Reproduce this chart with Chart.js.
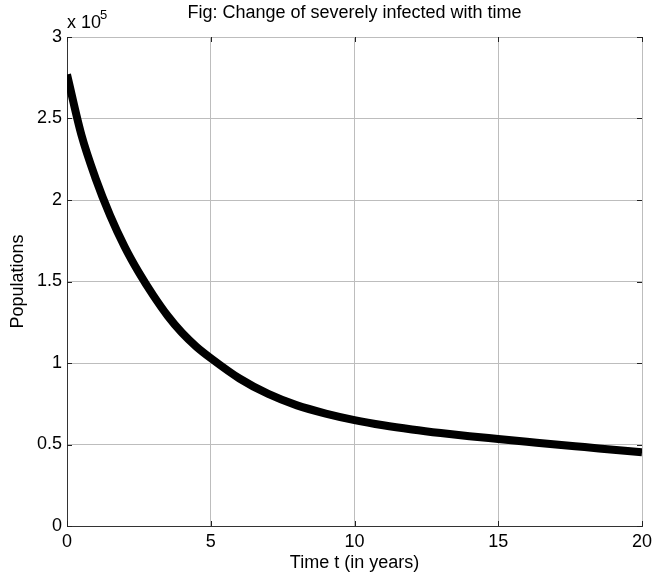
<!DOCTYPE html>
<html>
<head>
<meta charset="utf-8">
<script src="https://cdn.jsdelivr.net/npm/chart.js@4/dist/chart.umd.min.js"></script>
<style>
  body { margin: 0; background: #fff; }
  canvas { display: block; }
</style>
</head>
<body>
<canvas id="infectedChart" width="654" height="582"></canvas>
<script>
// Severely infected population over time (years)
const years = [0, 0.5, 1, 1.5, 2, 2.5, 3, 3.5, 4, 4.5, 5, 6, 7, 8, 9, 10,
               11, 12, 13, 14, 15, 16, 17, 18, 19, 20];
const severelyInfected = [277000, 240000, 213000, 190500, 171500, 155500, 141500, 129000,
                          118500, 110000, 103000, 90500, 81000, 74000, 69000, 65000,
                          61800, 59200, 57000, 55100, 53400, 51700, 50000, 48400,
                          46800, 45200];
const xTicks = [0, 5, 10, 15, 20];
const yTicks = [0, 50000, 100000, 150000, 200000, 250000, 300000];

const FONT = "Arial, 'Liberation Sans', sans-serif";

// Title, axis labels, exponent and inward tick marks
const decorations = {
    id: "decorations",
    afterDraw(chart) {
        const ctx = chart.ctx;
        const area = chart.chartArea;
        const xs = chart.scales.x;
        const ys = chart.scales.y;
        ctx.save();

        // small inward ticks on all four sides
        ctx.strokeStyle = "#222";
        ctx.lineWidth = 1;
        ctx.beginPath();
        xTicks.forEach(t => {
            const px = Math.round(xs.getPixelForValue(t)) + 0.5;
            ctx.moveTo(px, area.bottom); ctx.lineTo(px, area.bottom - 5);
            ctx.moveTo(px, area.top); ctx.lineTo(px, area.top + 5);
        });
        yTicks.forEach(t => {
            const py = Math.round(ys.getPixelForValue(t)) + 0.5;
            ctx.moveTo(area.left, py); ctx.lineTo(area.left + 5, py);
            ctx.moveTo(area.right, py); ctx.lineTo(area.right - 5, py);
        });
        ctx.stroke();

        ctx.fillStyle = "#000";
        ctx.font = "18px " + FONT;
        ctx.textAlign = "center";
        ctx.textBaseline = "middle";
        ctx.fillText("Fig: Change of severely infected with time", (area.left + area.right) / 2, 13);
        ctx.fillText("Time t (in years)", (area.left + area.right) / 2, 563);

        ctx.translate(18, (area.top + area.bottom) / 2);
        ctx.rotate(-Math.PI / 2);
        ctx.fillText("Populations", 0, 0);
        ctx.setTransform(1, 0, 0, 1, 0, 0);

        // exponent label above the y axis
        ctx.textAlign = "left";
        ctx.fillText("x 10", 67, 23);
        ctx.font = "13px " + FONT;
        ctx.fillText("5", 100, 15);
        ctx.restore();
    }
};

new Chart(document.getElementById("infectedChart"), {
    type: "line",
    data: {
        datasets: [{
            data: years.map((t, i) => ({ x: t, y: severelyInfected[i] })),
            borderColor: "#000",
            borderWidth: 8,
            pointRadius: 0,
            fill: false,
            cubicInterpolationMode: "monotone"
        }]
    },
    options: {
        responsive: false,
        animation: false,
        layout: { padding: { top: 37, right: 12, left: 0, bottom: 0 } },
        plugins: {
            legend: { display: false },
            tooltip: { enabled: false }
        },
        scales: {
            x: {
                type: "linear",
                min: 0,
                max: 20,
                afterBuildTicks: axis => { axis.ticks = xTicks.map(v => ({ value: v })); },
                afterFit: axis => {
                    axis.height = 56;
                    axis.paddingLeft = 0;
                    axis.paddingRight = 0;
                },
                grid: { color: "#bdbdbd", lineWidth: 1, drawTicks: false },
                border: { color: "#333", width: 1 },
                ticks: {
                    color: "#000",
                    font: { family: FONT, size: 18 },
                    padding: 5,
                    maxRotation: 0
                }
            },
            y: {
                min: 0,
                max: 300000,
                afterBuildTicks: axis => { axis.ticks = yTicks.map(v => ({ value: v })); },
                afterFit: axis => { axis.width = 67; },
                grid: { color: "#bdbdbd", lineWidth: 1, drawTicks: false },
                border: { color: "#333", width: 1 },
                ticks: {
                    color: "#000",
                    font: { family: FONT, size: 18 },
                    padding: 5,
                    callback: v => String(v / 100000)
                }
            }
        }
    },
    plugins: [decorations]
});
</script>
</body>
</html>
